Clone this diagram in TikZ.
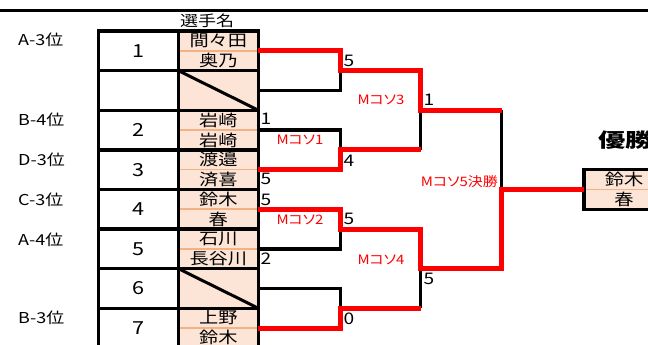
\documentclass[tikz,border=0pt]{standalone}
\usepackage{fontspec}
\setmainfont{Noto Sans CJK JP}[FakeStretch=1.2]
\newfontfamily\matchfont{Noto Sans CJK JP}[FakeStretch=1.15, RawFeature={+palt}]
\newfontfamily\titlefont{Noto Sans CJK JP}[FakeStretch=1.4]
\usetikzlibrary{positioning}
\definecolor{peach}{HTML}{FCE4D6}
\definecolor{sepline}{HTML}{F4B183}

\begin{document}
\begin{tikzpicture}[x=1pt, y=-1pt,
    numbox/.style={rectangle, draw=black, line width=3.4pt, fill=white, minimum width=80pt, minimum height=39.6pt, inner sep=0pt, outer sep=0pt, font={\fontsize{18}{20}\selectfont}},
    namebox/.style={rectangle, draw=black, line width=3.4pt, fill=peach, minimum width=80pt, minimum height=39.6pt, inner sep=0pt, outer sep=0pt, align=center, font={\fontsize{16}{20}\selectfont}},
    rank/.style={anchor=west, inner sep=0pt, font={\fontsize{15}{18}\selectfont}},
    score/.style={inner sep=0pt, font={\fontsize{16}{18}\selectfont}},
    matchlbl/.style={inner sep=0pt, text=red, font={\matchfont\fontsize{13}{15}\selectfont}},
    win/.style={draw=red, line width=5pt},
    lose/.style={draw=black, line width=3.4pt}
   ]
   \path[use as bounding box, fill=white] (0,0) rectangle (648,345);
   \draw[line width=3.4pt] (0,10.8) -- (648,10.8);

   \node[anchor=west, inner sep=0pt, font={\fontsize{15}{18}\selectfont}] (head) at (180,21) {選手名};

   % entries
   \node[numbox] (no1) at (138.3,50.8) {1};
   \node[namebox, right=0pt of no1] (pl1) {間々田\\奥乃};
   \node[numbox, below=0pt of no1] (nob) {};
   \node[namebox, right=0pt of nob] (plb) {};
   \node[numbox, below=0pt of nob] (no2) {2};
   \node[namebox, right=0pt of no2] (pl2) {岩崎\\岩崎};
   \node[numbox, below=0pt of no2] (no3) {3};
   \node[namebox, right=0pt of no3] (pl3) {渡邉\\済喜};
   \node[numbox, below=0pt of no3] (no4) {4};
   \node[namebox, right=0pt of no4] (pl4) {鈴木\\春};
   \node[numbox, below=0pt of no4] (no5) {5};
   \node[namebox, right=0pt of no5] (pl5) {石川\\長谷川};
   \node[numbox, below=0pt of no5] (no6) {6};
   \node[namebox, right=0pt of no6] (pl6) {};
   \node[numbox, below=0pt of no6] (no7) {7};
   \node[namebox, right=0pt of no7] (pl7) {上野\\鈴木};

   \node[rank] (r1) at (18,40) {A-3位};
   \node[rank] (r2) at (18,120) {B-4位};
   \node[rank] (r3) at (18,160) {D-3位};
   \node[rank] (r4) at (18,200) {C-3位};
   \node[rank] (r5) at (18,240) {A-4位};
   \node[rank] (r7) at (18,318) {B-3位};

   % bracket points
   \coordinate (m1) at ([xshift=82.2pt]pl1.south east);
   \coordinate (m2) at ([xshift=82.2pt]pl2.south east);
   \coordinate (m3) at ([xshift=82.2pt]pl4.south east);
   \coordinate (m4) at ([xshift=82.2pt]pl6.south east);
   \coordinate (s1) at ([xshift=162.2pt]plb.south east);
   \coordinate (s2) at ([xshift=162.2pt]pl5.south east);
   \coordinate (f) at ([xshift=243.2pt]pl3.south east);

   \node[namebox, right=82.5pt of f] (champ) {鈴木\\春};
   \node[anchor=west, inner sep=0pt, font={\titlefont\bfseries\fontsize{19.5}{20}\selectfont}] (title) at (598,140) {優勝};

   \foreach \p in {pl1,pl2,pl3,pl4,pl5,pl7,champ}
     \draw[sepline, line width=1.5pt, shorten <=1.7pt, shorten >=1.7pt] (\p.west) -- (\p.east);
   \foreach \p in {plb,pl6}
     \draw[line width=3pt] (\p.north west) -- (\p.south east);

   \draw[lose] (plb.east) -| (m1);
   \draw[lose] (pl2.east) -| (m2);
   \draw[lose] (pl5.east) -| (m3);
   \draw[lose] (pl6.east) -| (m4);
   \draw[lose] (s1) -- (m2 -| s1);
   \draw[lose] (s2) -- (m4 -| s2);
   \draw[lose] (s1 -| f) -- (f);

   \draw[win] (pl1.east) -| (m1) -| (s1) -- (s1 -| f);
   \draw[win] (pl3.east) -| (m2) -- (m2 -| s1);
   \draw[win] (pl4.east) -| (m3) -| (s2) -| (f) -- (champ.west);
   \draw[win] (pl7.east) -| (m4) -- (m4 -| s2);

   % scores
   \node[score, below right=3pt and 2pt of pl2.north east] (sc1) {1};
   \node[score, above right=4pt and 2pt of pl3.south east] (sc2) {5};
   \node[score, below right=4.5pt and 2pt of pl4.north east] (sc3) {5};
   \node[score, above right=3.5pt and 2pt of pl5.south east] (sc4) {2};
   \node[score, above right=4pt and 3pt of m1] (sc5) {5};
   \node[score, below right=5pt and 3pt of m2] (sc6) {4};
   \node[score, above right=4pt and 3pt of m3] (sc7) {5};
   \node[score, below right=4pt and 3pt of m4] (sc8) {0};
   \node[score, above right=4pt and 3pt of s1] (sc9) {1};
   \node[score, below right=4.5pt and 3pt of s2] (sc10) {5};

   \node[matchlbl] (lb1) at (300,140) {Mコソ1};
   \node[matchlbl] (lb2) at (300,220) {Mコソ2};
   \node[matchlbl] (lb3) at (381,100) {Mコソ3};
   \node[matchlbl] (lb4) at (381,260) {Mコソ4};
   \node[matchlbl, anchor=east] (lb5) at (498,182) {Mコソ5決勝};
\end{tikzpicture}
\end{document}
